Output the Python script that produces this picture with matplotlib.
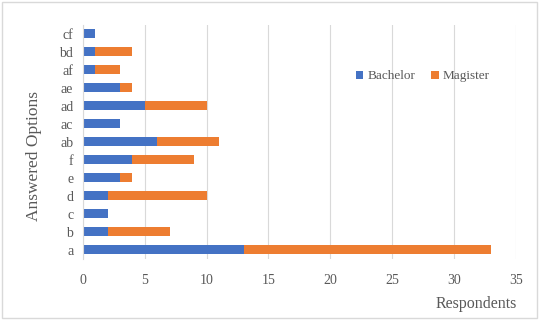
import matplotlib
matplotlib.use("Agg")
import matplotlib.pyplot as plt
import numpy as np

# Answer options, bottom to top
options = ["a", "b", "c", "d", "e", "f", "ab", "ac", "ad", "ae", "af", "bd", "cf"]
bachelor = [13, 2, 2, 2, 3, 4, 6, 3, 5, 3, 1, 1, 1]
magister = [20, 5, 0, 8, 1, 5, 5, 0, 5, 1, 2, 3, 0]
x_ticks = [0, 5, 10, 15, 20, 25, 30, 35]

plt.rcParams["font.family"] = ["Liberation Serif", "DejaVu Serif"]
text_color = "#595959"

fig = plt.figure(figsize=(5.39, 3.2), dpi=100)
ax = fig.add_axes([0.154, 0.191, 0.803, 0.731])

y = np.arange(len(options))
ax.barh(y, bachelor, height=0.5, color="#4472C4", label="Bachelor")
ax.barh(y, magister, height=0.5, left=bachelor, color="#ED7D31", label="Magister")

ax.set_xlim(0, 35)
ax.set_ylim(-0.5, len(options) - 0.5)
ax.set_xticks(x_ticks)
ax.set_yticks(y)
ax.set_yticklabels(options)
ax.grid(axis="x", color="#D9D9D9", linewidth=0.8)
ax.set_axisbelow(True)
for side in ["top", "right", "bottom"]:
    ax.spines[side].set_visible(False)
ax.spines["left"].set_color("#D9D9D9")
ax.tick_params(length=0, labelsize=10, colors=text_color, pad=7)
ax.tick_params(axis="x", pad=11)

ax.set_ylabel("Answered Options", fontsize=12.5, color=text_color)
ax.yaxis.set_label_coords(-0.095, 0.44)
fig.text(0.959, 0.037, "Respondents", fontsize=11.5, color=text_color, ha="right")

ax.legend(loc="center", bbox_to_anchor=(0.785, 0.78), ncol=2, frameon=False,
          fontsize=9.5, handlelength=0.6, handleheight=0.6, handletextpad=0.3,
          columnspacing=1.2, labelcolor=text_color)

# light frame around the whole chart
fig.patches.append(plt.Rectangle((0.003, 0.005), 0.994, 0.99, transform=fig.transFigure,
                                 fill=False, edgecolor="#D9D9D9", linewidth=1))

fig.savefig("out.png", dpi=100)
plt.close()
